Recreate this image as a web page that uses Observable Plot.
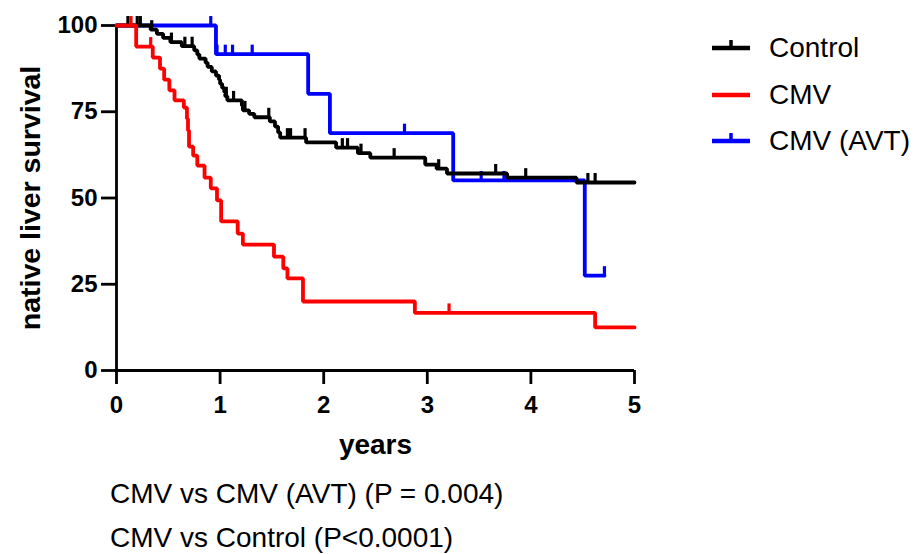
<!DOCTYPE html>
<html><head><meta charset="utf-8">
<script src="https://cdn.jsdelivr.net/npm/d3@7"></script>
<script src="https://cdn.jsdelivr.net/npm/@observablehq/plot@0.6"></script>
<style>
body{margin:0;background:#fff;}
#wrap{position:relative;width:914px;height:554px;font-family:"Liberation Sans",Arial,Helvetica,sans-serif;color:#000;overflow:hidden;}
#chart{position:absolute;left:0;top:0;}
.leg{position:absolute;left:712px;height:40px;display:flex;align-items:center;font-size:28px;white-space:nowrap;}
.leg svg{margin-right:19px;overflow:visible;}
#cap{position:absolute;left:110px;top:472px;font-size:28px;line-height:44px;white-space:nowrap;}
</style></head><body><div id="wrap"><div id="chart"></div><div id="legend"></div><div id="cap"></div></div>
<script>
// ---- data (years, % native liver survival) ----
const seriesNames = ["Control", "CMV", "CMV (AVT)"];
const seriesColors = ["#000000", "#ff0000", "#0000ff"];
const seriesEnd = [5.0, 5.0, 4.71];

const controlTimes = [0.33,0.39,0.45,0.52,0.63,0.75,0.78,0.80,0.86,0.88,0.92,0.96,0.99,1.00,1.02,1.04,1.05,1.07,1.21,1.22,1.28,1.33,1.48,1.53,1.56,1.58,1.83,2.12,2.33,2.45,2.98,3.09,3.19,3.77,4.44];
const controlSurv  = [98.8,97.6,96.4,95.2,94.0,92.8,91.6,90.4,89.2,88.0,86.7,85.5,84.3,83.1,81.9,80.7,79.5,78.3,76.8,75.4,74.4,73.4,72.2,70.7,69.0,67.5,66.1,64.6,63.0,61.7,59.7,58.5,57.1,55.9,54.5];
const controlCensor = [0.11,0.20,0.23,0.34,0.53,0.66,0.73,1.06,1.13,1.24,1.47,1.65,1.68,1.82,2.18,2.23,2.36,2.68,3.11,3.66,3.95,4.55,4.62];

const cmvTimes = [0.19,0.35,0.42,0.46,0.51,0.56,0.65,0.68,0.69,0.70,0.74,0.78,0.85,0.91,0.97,1.01,1.17,1.22,1.52,1.61,1.65,1.80,2.88,4.62];
const cmvSurv  = [93.9,90.7,87.5,84.3,81.2,78.3,76.2,73.0,69.6,64.9,62.3,59.4,55.9,52.8,49.3,43.2,39.7,36.5,33.0,29.6,26.7,20.0,16.7,12.5];
const cmvCensor = [0.14,0.33,3.21];

const avtTimes = [0.96,1.85,2.06,3.25,4.52];
const avtSurv  = [91.7,80.2,68.8,55.1,27.5];
const avtCensor = [0.91,0.97,1.05,1.12,1.31,2.78,3.52,3.74,4.71];

const xTicks = [0,1,2,3,4,5];
const yTicks = [0,25,50,75,100];
const xLabel = "years";
const yLabel = "native liver survival";
const captions = ["CMV vs CMV (AVT) (P = 0.004)", "CMV vs Control (P<0.0001)"];

// ---- build tables ----
const times = [controlTimes, cmvTimes, avtTimes];
const survs = [controlSurv, cmvSurv, avtSurv];
const censors = [controlCensor, cmvCensor, avtCensor];
function curve(i){
  const pts=[{t:0,s:100}];
  times[i].forEach((t,j)=>pts.push({t, s:survs[i][j]}));
  pts.push({t:seriesEnd[i], s:survs[i][survs[i].length-1]});
  return pts;
}
function survAt(i,t){
  let s=100;
  times[i].forEach((tt,j)=>{ if(tt<=t) s=survs[i][j]; });
  return s;
}
function cens(i){ return censors[i].map(t=>({t, s:survAt(i,t)})); }

const order = [2,0,1]; // draw AVT, then Control, then CMV on top
const font = '"Liberation Sans",Arial,Helvetica,sans-serif';
const lw = 3.8;

const marks = [
  Plot.ruleY([0], {strokeWidth: 2.8}),
  Plot.ruleX([0], {strokeWidth: 2.8}),
  Plot.axisY({ticks: yTicks, tickFormat: d=>String(d), tickSize: 15, tickPadding: 4, fontSize: 24, fontWeight: "bold", strokeWidth: 2.8, label: null}),
  Plot.axisX({ticks: xTicks, tickFormat: d=>String(d), tickSize: 14, tickPadding: 11, fontSize: 24, fontWeight: "bold", strokeWidth: 2.8, label: null}),
];
order.forEach(i=>{
  marks.push(Plot.line(curve(i), {x:"t", y:"s", curve:"step-after", stroke: seriesColors[i], strokeWidth: lw, strokeLinejoin:"miter"}));
  marks.push(Plot.ruleX(cens(i), {x:"t", y1:"s", y2: d=>d.s+2.6, stroke: seriesColors[i], strokeWidth: 3.2}));
});
marks.push(Plot.text([yLabel], {text: d=>d, frameAnchor:"left", textAnchor:"middle", rotate:-90, dx:-86, fontSize:28.5, fontWeight:"bold"}));
marks.push(Plot.text([xLabel], {text: d=>d, frameAnchor:"bottom", textAnchor:"middle", dy:83, fontSize:28, fontWeight:"bold"}));

const chart = Plot.plot({
  width: 914, height: 460,
  marginLeft: 116, marginRight: 280, marginTop: 25, marginBottom: 90,
  x: {domain: [0,5]}, y: {domain: [0,100]},
  style: {fontFamily: font, color: "#000", background: "#fff", overflow: "visible"},
  marks
});
document.getElementById("chart").appendChild(chart);

// ---- legend ----
const legTop = [28, 75, 121];
const legTick = [true, false, true];
const leg = document.getElementById("legend");
seriesNames.forEach((name,i)=>{
  const d = document.createElement("div");
  d.className = "leg";
  d.style.top = legTop[i] + "px";
  const ns = "http://www.w3.org/2000/svg";
  const svg = document.createElementNS(ns,"svg");
  svg.setAttribute("width", 38); svg.setAttribute("height", 20);
  const l = document.createElementNS(ns,"line");
  l.setAttribute("x1",0); l.setAttribute("x2",38); l.setAttribute("y1",10); l.setAttribute("y2",10);
  l.setAttribute("stroke", seriesColors[i]); l.setAttribute("stroke-width", 4.5);
  svg.appendChild(l);
  if (legTick[i]) {
    const t = document.createElementNS(ns,"line");
    t.setAttribute("x1",19); t.setAttribute("x2",19); t.setAttribute("y1",10); t.setAttribute("y2",2);
    t.setAttribute("stroke", seriesColors[i]); t.setAttribute("stroke-width", 3.5);
    svg.appendChild(t);
  }
  d.appendChild(svg);
  const s = document.createElement("span"); s.textContent = name;
  d.appendChild(s);
  leg.appendChild(d);
});

// ---- captions ----
const cap = document.getElementById("cap");
captions.forEach(c=>{ const p=document.createElement("div"); p.textContent=c; cap.appendChild(p); });
</script>
</body></html>
